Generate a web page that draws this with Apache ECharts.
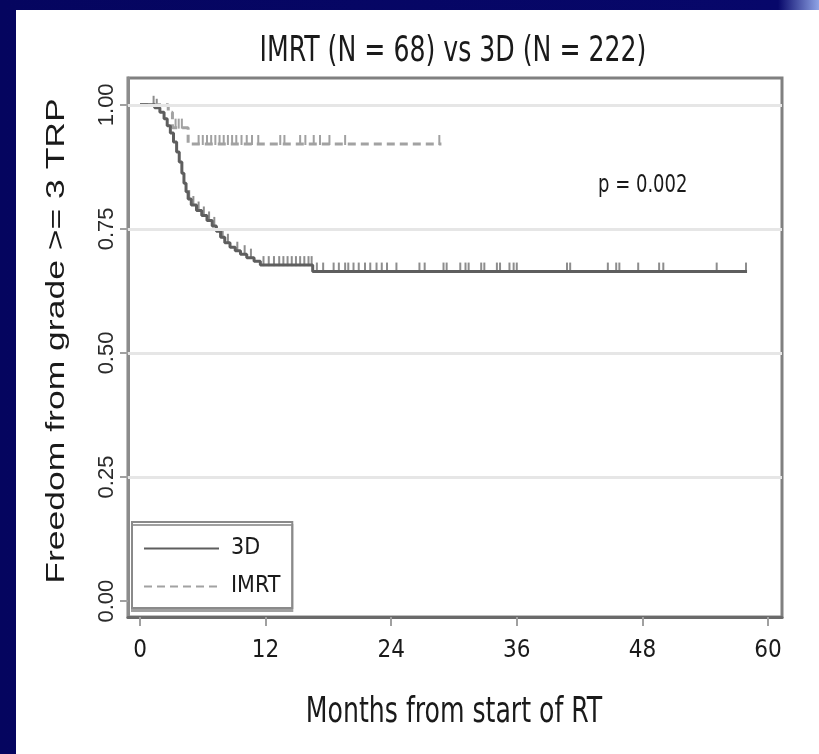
<!DOCTYPE html>
<html>
<head>
<meta charset="utf-8">
<script src="https://cdn.jsdelivr.net/npm/echarts@6/dist/echarts.min.js"></script>
<style>
  html, body { margin: 0; padding: 0; }
  body {
    width: 819px; height: 754px; overflow: hidden;
    background: linear-gradient(to right, #05055f 0%, #07076a 95%, #8fa4e6 100%);
  }
  #ard-container {
    position: absolute; left: 16px; top: 10px;
    width: 803px; height: 744px; background: #ffffff;
  }
</style>
</head>
<body>
<div id="ard-container"></div>
<script>
// Kaplan-Meier steps (months, survival after the drop)
var times3D = [0, 1.4, 1.9, 2.3, 2.6, 2.9, 3.2, 3.5, 3.75, 4.0, 4.2, 4.4, 4.6, 4.9, 5.4, 5.9, 6.4, 6.9, 7.3, 7.7, 8.1, 8.6, 9.1, 9.6, 10.2, 10.9, 11.5, 16.5, 58.0];
var surv3D  = [1.0, 0.994, 0.985, 0.972, 0.958, 0.943, 0.925, 0.905, 0.885, 0.862, 0.842, 0.825, 0.81, 0.798, 0.787, 0.777, 0.767, 0.756, 0.745, 0.733, 0.722, 0.713, 0.706, 0.699, 0.692, 0.685, 0.677, 0.664, 0.664];
var timesIMRT = [0, 2.7, 3.1, 4.6, 28.8];
var survIMRT  = [1.0, 0.985, 0.954, 0.921, 0.921];
// censored observations (months)
var cens3D = [1.3, 1.6, 4.7, 5.1, 5.6, 6.1, 6.6, 7.1, 7.9, 8.4, 9.3, 10.0, 10.6, 11.8, 12.3, 12.8, 13.3, 13.7, 14.1, 14.5, 14.9, 15.3, 15.7, 16.1, 16.4,
              16.9, 17.5, 18.5, 19.0, 19.6, 19.9, 20.4, 20.9, 21.5, 22.0, 22.6, 23.1, 23.6, 24.5, 26.7, 27.2, 29.0, 29.3, 30.6, 31.1, 31.4,
              32.6, 32.9, 34.1, 34.4, 35.3, 35.7, 36.0, 40.8, 41.1, 44.7, 45.5, 45.8, 47.6, 49.6, 50.0, 55.1, 57.9];
var censIMRT = [3.4, 3.7, 4.0, 5.6, 6.0, 6.4, 6.8, 7.2, 7.6, 8.0, 8.4, 8.8, 9.2, 9.7, 10.2, 10.7, 11.3, 13.4, 13.8, 15.3, 15.8, 16.6, 17.2, 18.1, 19.6, 28.6];
var xTicks = [0, 12, 24, 36, 48, 60];
var yTicks = [0, 0.25, 0.5, 0.75, 1];
var gridValues = [0.25, 0.5, 0.75, 1];

var NARROW = '"Liberation Sans Narrow", "DejaVu Sans Condensed", "Liberation Sans", sans-serif';
var REGULAR = '"Liberation Sans", Arial, sans-serif';

function pairs(t, s) {
    return t.map(function (v, i) { return [v, s[i]]; });
}
function survAt(t, s, x) {
    var k = 0;
    for (var i = 0; i < t.length; i++) { if (t[i] <= x) k = i; }
    return s[k];
}
function censPoints(c, t, s) {
    return c.map(function (x) { return [x, survAt(t, s, x)]; });
}

var dom = document.getElementById("ard-container");
var myChart = echarts.init(dom);
var option = {
    animation: false,
    grid: {
        left: 112, right: 37, top: 68, bottom: 137,
        show: true, borderColor: '#808080', borderWidth: 3
    },
    legend: {
        data: ['3D', 'IMRT'],
        orient: 'vertical',
        left: 116, top: 512,
        itemWidth: 75, itemHeight: 14, itemGap: 15,
        padding: [15, 12, 10, 11],
        borderColor: '#8a8a8a', borderWidth: 2,
        backgroundColor: '#ffffff',
        shadowColor: '#a0a0a0', shadowOffsetY: 3, shadowBlur: 0,
        itemStyle: { opacity: 0 },
        textStyle: { fontFamily: NARROW, fontSize: 23, color: '#1a1a1a', padding: [0, 0, 0, 7] }
    },
    xAxis: {
        type: 'value', min: -1.146, max: 61.34,
        axisLine: { show: true, onZero: false, lineStyle: { color: '#6a6a6a', width: 3 } },
        axisTick: { show: true, customValues: xTicks, length: 9, lineStyle: { color: '#a0a0a0', width: 2 } },
        axisLabel: { customValues: xTicks, margin: 22, fontFamily: NARROW, fontSize: 24, color: '#1a1a1a' },
        splitLine: { show: false }
    },
    yAxis: {
        type: 'value', min: -0.032, max: 1.054,
        axisLine: { show: true, onZero: false, lineStyle: { color: '#8c8c8c', width: 3 } },
        axisTick: { show: true, customValues: yTicks, length: 8, lineStyle: { color: '#a0a0a0', width: 2 } },
        axisLabel: {
            customValues: yTicks, rotate: 90, margin: 10,
            fontFamily: REGULAR, fontSize: 22, color: '#2a2a2a',
            formatter: function (v) { return v.toFixed(2); }
        },
        splitLine: { show: false }
    },
    graphic: [
        { type: 'text', x: 437, y: 42, scaleY: 1.25, style: { text: 'IMRT (N = 68) vs 3D (N = 222)', font: '28px ' + NARROW, fill: '#1a1a1a', align: 'center', verticalAlign: 'middle' } },
        { type: 'text', x: 438, y: 703, scaleY: 1.25, style: { text: 'Months from start of RT', font: '28px ' + NARROW, fill: '#1a1a1a', align: 'center', verticalAlign: 'middle' } },
        { type: 'text', x: 582, y: 176, scaleY: 1.2, style: { text: 'p = 0.002', font: '20px ' + NARROW, fill: '#1a1a1a', align: 'left', verticalAlign: 'middle' } },
        { type: 'text', x: 41, y: 331, rotation: Math.PI / 2, scaleX: 1.42,
          style: { text: 'Freedom from grade >= 3 TRP', font: '25px ' + REGULAR, fill: '#1a1a1a', align: 'center', verticalAlign: 'middle' } }
    ],
    series: [
        {
            name: 'gridlines', type: 'line', data: [], silent: true,
            markLine: {
                silent: true, symbol: 'none', label: { show: false },
                lineStyle: { color: '#e6e6e6', width: 3, type: 'solid' },
                data: gridValues.map(function (v) { return { yAxis: v }; })
            }
        },
        {
            name: 'IMRT', type: 'line', step: 'end', symbol: 'none', showSymbol: false,
            lineStyle: { color: '#a2a2a2', width: 3, type: [8, 5] },
            itemStyle: { color: '#a2a2a2' },
            data: pairs(timesIMRT, survIMRT)
        },
        {
            name: '3D', type: 'line', step: 'end', symbol: 'none', showSymbol: false,
            lineStyle: { color: '#5e5e5e', width: 3 },
            itemStyle: { color: '#5e5e5e' },
            data: pairs(times3D, surv3D)
        },
        {
            name: 'IMRT censored', type: 'scatter', symbol: 'rect', symbolSize: [2, 10], symbolOffset: [0, -4],
            itemStyle: { color: '#8a8a8a' }, silent: true,
            data: censPoints(censIMRT, timesIMRT, survIMRT)
        },
        {
            name: '3D censored', type: 'scatter', symbol: 'rect', symbolSize: [2, 10], symbolOffset: [0, -4],
            itemStyle: { color: '#707070' }, silent: true,
            data: censPoints(cens3D, times3D, surv3D)
        }
    ]
};
myChart.setOption(option);
</script>
</body>
</html>
